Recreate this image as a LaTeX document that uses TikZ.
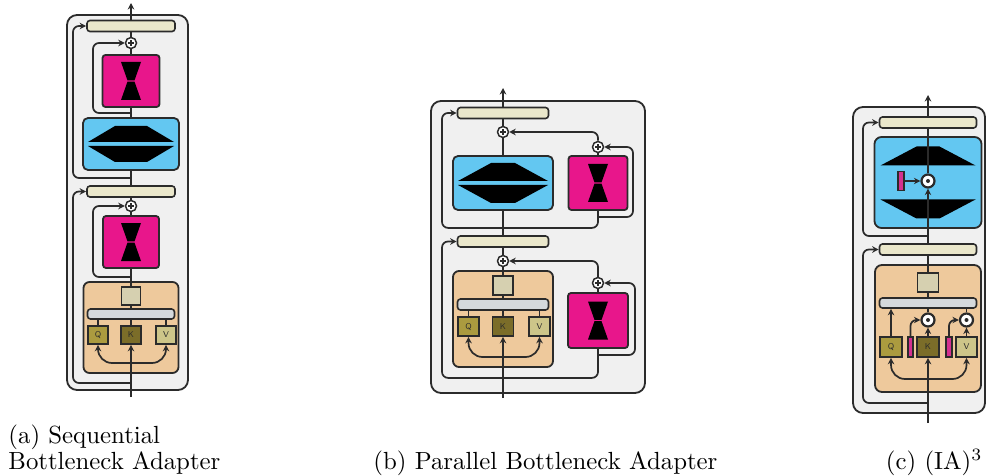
\documentclass[tikz,border=0pt]{standalone}
\usepackage{tikz}
\usetikzlibrary{arrows.meta}

\definecolor{wirec}{HTML}{2B2B2B}
\definecolor{blockc}{HTML}{F0F0F0}
\definecolor{normc}{HTML}{EAE7CB}
\definecolor{adptc}{HTML}{E8168B}
\definecolor{ffnc}{HTML}{63C7F1}
\definecolor{attnc}{HTML}{EEC99C}
\definecolor{projc}{HTML}{D6D0B0}
\definecolor{headc}{HTML}{D5D9DC}
\definecolor{qc}{HTML}{AB9B3F}
\definecolor{kc}{HTML}{7B6D29}
\definecolor{vc}{HTML}{CDC589}
\definecolor{iac}{HTML}{D4308F}

\tikzset{
    block/.style={draw=wirec, fill=blockc, line width=1.8pt, rounded corners=10pt, inner sep=0pt},
    ln/.style={draw=wirec, fill=normc, line width=1.6pt, rounded corners=3pt, minimum height=11pt, inner sep=0pt},
    adpt/.style={draw=wirec, fill=adptc, line width=1.8pt, rounded corners=3pt, inner sep=0pt},
    ffn/.style={draw=wirec, fill=ffnc, line width=1.8pt, rounded corners=5pt, inner sep=0pt},
    attn/.style={draw=wirec, fill=attnc, line width=1.8pt, rounded corners=6pt, inner sep=0pt},
    proj/.style={draw=wirec, fill=projc, line width=1.6pt, inner sep=0pt},
    heads/.style={draw=wirec, fill=headc, line width=1.6pt, rounded corners=3pt, minimum height=10pt, inner sep=0pt},
    qkv/.style={draw=wirec, line width=1.6pt, inner sep=0pt, minimum width=21pt, minimum height=19pt, text=wirec, font=\sffamily\fontsize{8.5}{8.5}\selectfont},
    iavec/.style={draw=wirec, fill=iac, line width=1.4pt, inner sep=0pt, minimum width=5pt, minimum height=19pt},
    oplus/.style={circle, draw=wirec, fill=white, line width=1.5pt, minimum size=11pt, inner sep=0pt,
        path picture={\draw[wirec, line width=1.3pt] ([xshift=-3pt]path picture bounding box.center) -- ([xshift=3pt]path picture bounding box.center)
            ([yshift=-3pt]path picture bounding box.center) -- ([yshift=3pt]path picture bounding box.center);}},
    odot/.style={circle, draw=wirec, fill=white, line width=2.2pt, minimum size=13pt, inner sep=0pt,
        path picture={\fill[wirec] (path picture bounding box.center) circle (2pt);}},
    wire/.style={draw=wirec, line width=1.7pt},
    conn/.style={wire, -{Stealth[length=6.5pt,width=6.5pt]}},
    bypass/.style={conn, rounded corners=6pt},
    qkvloop/.style={wire, {Stealth[length=6.5pt,width=6.5pt]}-{Stealth[length=6.5pt,width=6.5pt]}, rounded corners=14pt},
    capt/.style={inner sep=0pt, font=\fontsize{10}{12}\selectfont, scale=2.48}
}

% hourglass inside an adapter box
\newcommand{\adptglyph}[1]{%
    \fill (#1.center) ++(-10,-19) -- ++(20,0) -- ++(-6.5,18.4) -- ++(-7,0) -- cycle
          (#1.center) ++(-10,19) -- ++(20,0) -- ++(-6.5,-18.4) -- ++(-7,0) -- cycle;}
% up/down projection inside a feed-forward box: node, wide, narrow, height, half gap
\newcommand{\ffnglyph}[5]{%
    \fill (#1.center) ++(-#2,-#5) -- ++(2*#2,0) -- ++({#3-#2},{-#4}) -- ++({-2*#3},0) -- cycle
          (#1.center) ++(-#2,#5) -- ++(2*#2,0) -- ++({#3-#2},#4) -- ++({-2*#3},0) -- cycle;}

\begin{document}
\begin{tikzpicture}[x=1pt,y=1pt,yscale=-1,xscale=1]
    \useasboundingbox (0,0) rectangle (986,476);

    %% (a) sequential bottleneck adapter
    \node[block, minimum width=121pt, minimum height=375pt] (blocka) at (127.5,202.5) {};
    \node[ln, minimum width=88pt] (lna1) at (131,26) {};
    \node[oplus] (pa1) at (131,43) {};
    \node[adpt, minimum width=57pt, minimum height=52pt] (adpa1) at (131,81) {};
    \node[ffn, minimum width=96pt, minimum height=52pt] (ffna) at (131,144) {};
    \node[ln, minimum width=88pt] (lna2) at (131,191.5) {};
    \node[oplus] (pa2) at (131,206) {};
    \node[adpt, minimum width=56pt, minimum height=52pt] (adpa2) at (131,242) {};
    \node[attn, minimum width=95pt, minimum height=91pt] (attna) at (131,327.5) {};
    \node[proj, minimum width=19pt, minimum height=18pt] (sqa) at (131,296) {};
    \node[heads, minimum width=87pt] (gba) at (131,314) {};
    \node[qkv, fill=qc, minimum width=20pt, minimum height=18pt] (Qa) at (98,335) {Q};
    \node[qkv, fill=kc, minimum width=20pt, minimum height=18pt] (Ka) at (131,335) {K};
    \node[qkv, fill=vc, minimum width=20pt, minimum height=18pt] (Va) at (166,335) {V};
    \adptglyph{adpa1}
    \adptglyph{adpa2}
    \ffnglyph{ffna}{43}{16}{16}{2}

    \coordinate (ina) at (131,397);
    \coordinate (outa) at (131,3);
    \coordinate (cba) at (131,363);
    \coordinate (sa1) at (131,113);
    \coordinate (sa2) at (131,178);
    \coordinate (sa3) at (131,277);
    \coordinate (sa4) at (131,383);
    \draw[conn] (ina) -- (Ka);
    \draw[wire] (Ka) -- (gba) (gba) -- (sqa) (sqa) -- (adpa2) (adpa2) -- (pa2) (pa2) -- (lna2)
        (lna2) -- (ffna) (ffna) -- (adpa1) (adpa1) -- (pa1) (pa1) -- (lna1);
    \draw[conn] (lna1) -- (outa);
    \draw[wire] (Qa) -- (Qa |- gba.south) (Va) -- (Va |- gba.south);
    \draw[qkvloop] (Qa.south) |- (cba) -| (Va.south);
    \draw[bypass] (sa1) -- ++(-38,0) |- (pa1);
    \draw[bypass] (sa2) -- ++(-58,0) |- (lna1);
    \draw[bypass] (sa3) -- ++(-38,0) |- (pa2);
    \draw[bypass] (sa4) -- ++(-58,0) |- (lna2);

    %% (b) parallel bottleneck adapter
    \node[block, minimum width=214pt, minimum height=292pt] (blockb) at (538,247) {};
    \node[ln, minimum width=91pt] (lnb1) at (503,113) {};
    \node[oplus] (pb1) at (503,132) {};
    \node[ffn, minimum width=100pt, minimum height=54pt] (ffnb) at (503,183) {};
    \node[oplus] (pb2) at (598,147) {};
    \node[adpt, minimum width=59pt, minimum height=54pt] (adpb1) at (598,183) {};
    \node[ln, minimum width=91pt] (lnb2) at (503,241.5) {};
    \node[oplus] (pb3) at (503,261) {};
    \node[attn, minimum width=100pt, minimum height=96pt] (attnb) at (503,319) {};
    \node[proj, minimum width=20pt, minimum height=19pt] (sqb) at (503,285.5) {};
    \node[heads, minimum width=91pt, minimum height=11pt] (gbb) at (503,304.5) {};
    \node[qkv, fill=qc] (Qb) at (468.5,326.5) {Q};
    \node[qkv, fill=kc] (Kb) at (503,326.5) {K};
    \node[qkv, fill=vc] (Vb) at (539.5,326.5) {V};
    \node[oplus] (pb4) at (598,283) {};
    \node[adpt, minimum width=60pt, minimum height=55pt] (adpb2) at (598,320.5) {};
    \adptglyph{adpb1}
    \adptglyph{adpb2}
    \ffnglyph{ffnb}{45}{12}{18}{2}

    \coordinate (inb) at (503,398);
    \coordinate (outb) at (503,88);
    \coordinate (cbb) at (503,357);
    \coordinate (sb1) at (598,217);
    \coordinate (sb2) at (598,355);
    \draw[conn] (inb) -- (Kb);
    \draw[wire] (Kb) -- (gbb) (gbb) -- (sqb) (sqb) -- (pb3) (pb3) -- (lnb2) (lnb2) -- (ffnb)
        (ffnb) -- (pb1) (pb1) -- (lnb1) (adpb1) -- (pb2) (adpb2) -- (pb4);
    \draw[conn] (lnb1) -- (outb);
    \draw[wire] (Qb) -- (Qb |- gbb.south) (Vb) -- (Vb |- gbb.south);
    \draw[qkvloop] (Qb.south) |- (cbb) -| (Vb.south);
    \draw[bypass] (pb2) |- (pb1);
    \draw[bypass] (pb4) |- (pb3);
    \draw[bypass] (adpb1.south) -- ++(0,17) -- ++(-156,0) |- (lnb1);
    \draw[bypass] (adpb2.south) -- ++(0,29) -- ++(-156,0) |- (lnb2);
    \draw[bypass] (sb1) -- ++(35,0) |- (pb2);
    \draw[bypass] (sb2) -- ++(37,0) |- (pb4);

    %% (c) (IA)^3
    \node[block, minimum width=132pt, minimum height=306pt] (blockc) at (919,260) {};
    \node[ln, minimum width=97pt] (lnc1) at (928,122.5) {};
    \node[ffn, minimum width=107pt, minimum height=91pt, rounded corners=7pt] (ffnc) at (928,182.5) {};
    \ffnglyph{ffnc}{47.5}{11.5}{19}{17}
    \node[odot] (oc1) at (928,181) {};
    \node[iavec, minimum width=6pt] (iac1) at (901,181) {};
    \node[ln, minimum width=97pt] (lnc2) at (928,249.5) {};
    \node[attn, minimum width=106pt, minimum height=127pt, rounded corners=7pt] (attnc) at (928,328.5) {};
    \node[proj, minimum width=21pt, minimum height=19pt] (sqc) at (928,282.5) {};
    \node[heads, minimum width=97pt] (gbc) at (928,303) {};
    \node[qkv, fill=qc, minimum width=22pt, minimum height=20pt] (Qc) at (891,347) {Q};
    \node[iavec, minimum height=20pt] (iac2) at (910.5,347) {};
    \node[qkv, fill=kc, minimum width=22pt, minimum height=20pt] (Kc) at (928,347) {K};
    \node[iavec, minimum width=6pt, minimum height=20pt] (iac3) at (949,347) {};
    \node[qkv, fill=vc, minimum width=21pt, minimum height=20pt] (Vc) at (966.5,347) {V};
    \node[odot] (oc2) at (928,320) {};
    \node[odot] (oc3) at (966.5,320) {};

    \coordinate (inc) at (928,423);
    \coordinate (outc) at (928,95);
    \coordinate (cbc) at (928,379);
    \coordinate (sc1) at (928,236);
    \coordinate (sc2) at (928,403);
    \draw[conn] (inc) -- (Kc);
    \draw[conn] (Kc) -- (oc2);
    \draw[conn] (Vc) -- (oc3);
    \draw[conn] (Qc) -- (Qc |- gbc.south);
    \draw[wire] (oc2) -- (gbc) (oc3) -- (oc3 |- gbc.south) (gbc) -- (sqc) (sqc) -- (lnc2) (oc1) -- (lnc1);
    \draw[conn] (lnc2) -- (oc1);
    \draw[conn] (iac1) -- (oc1);
    \draw[conn] (lnc1) -- (outc);
    \draw[bypass] (iac2) |- (oc2);
    \draw[bypass] (iac3) |- (oc3);
    \draw[qkvloop] (Qc.south) |- (cbc) -| (Vc.south);
    \draw[bypass] (sc1) -- ++(-65,0) |- (lnc1);
    \draw[bypass] (sc2) -- ++(-65,0) |- (lnc2);

    % Text Node
    \node[capt, anchor=base west] (capa1) at (8,443) {(a) Sequential};
    \node[capt, anchor=base west] (capa2) at (8,469) {Bottleneck Adapter};
    % Text Node
    \node[capt, anchor=base west] (capb) at (373,469) {(b) Parallel Bottleneck Adapter};
    % Text Node
    \node[capt, anchor=base east] (capc) at (983,469) {(c) (IA)$^3$};
\end{tikzpicture}
\end{document}
